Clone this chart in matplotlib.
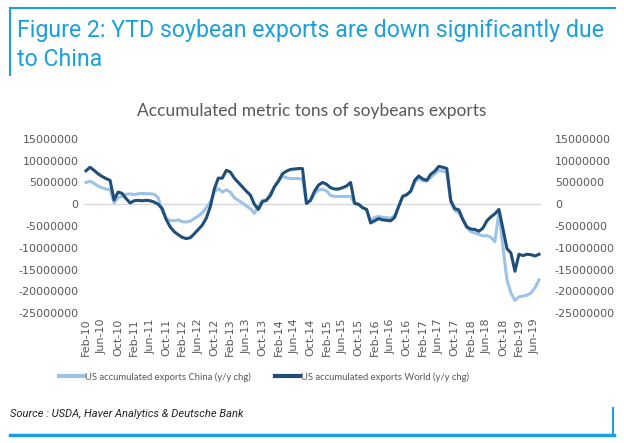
import matplotlib.pyplot as plt
import pandas as pd
from matplotlib.lines import Line2D

# monthly categories, Feb-10 .. Jul-19
months = pd.date_range('2010-02-01', '2019-07-01', freq='MS')
month_labels = [m.strftime('%b-%y') for m in months]

# y/y change in accumulated exports, million metric tons
china = [5.0, 5.3, 4.8, 4.2, 3.8, 3.5, 3.4, 0.3, 1.5, 1.8,
         2.3, 2.4, 2.2, 2.4, 2.5, 2.4, 2.4, 2.3, 1.5, -1.5,
         -3.3, -3.7, -3.8, -3.6, -4.0, -4.1, -3.9, -3.3, -2.7, -2.0,
         -0.8, 0.5, 2.8, 3.6, 2.8, 3.3, 2.8, 1.5, 0.9, 0.3,
         -0.4, -1.0, -2.1, -0.5, 0.9, 0.9, 2.5, 4.0, 5.5, 6.4,
         6.1, 5.9, 5.9, 5.9, 5.8, 0.2, 0.8, 2.4, 3.3, 3.4,
         3.1, 2.0, 1.8, 1.8, 1.8, 1.8, 1.8, 0.2, -0.1, -0.8,
         -1.2, -3.8, -3.0, -2.8, -3.0, -3.1, -3.2, -2.6, -0.5, 1.8,
         2.2, 3.0, 5.0, 6.0, 5.4, 5.3, 6.2, 7.0, 7.8, 7.6,
         7.3, 0.5, -1.5, -2.0, -3.5, -5.4, -6.3, -6.6, -6.9, -7.3,
         -7.2, -7.6, -8.6, -1.8, -9.8, -17.3, -20.4, -22.1, -21.3, -21.1,
         -20.9, -20.4, -19.2, -17.4]
world = [7.7, 8.5, 7.8, 7.0, 6.4, 5.9, 5.5, 1.0, 2.8, 2.5,
         1.3, 0.3, 0.8, 0.9, 0.8, 0.9, 0.8, 0.5, 0.0, -1.0,
         -3.5, -5.2, -6.3, -7.0, -7.6, -7.9, -7.7, -6.8, -5.8, -4.8,
         -3.2, -0.6, 3.5, 6.0, 6.0, 7.8, 7.4, 6.0, 5.0, 4.0,
         3.0, 2.1, 0.0, -1.2, 0.6, 0.9, 2.0, 4.0, 5.3, 7.0,
         7.6, 8.0, 8.1, 8.2, 8.2, 0.2, 0.9, 3.0, 4.4, 5.0,
         4.6, 3.8, 3.5, 3.5, 3.8, 4.2, 5.0, 0.2, 0.0, -0.8,
         -1.2, -4.3, -3.8, -3.3, -3.6, -3.7, -3.8, -3.0, -0.5, 1.8,
         2.2, 3.0, 5.5, 6.5, 5.8, 5.5, 6.9, 7.6, 8.7, 8.5,
         8.2, 0.8, -1.0, -1.3, -3.5, -5.2, -5.7, -5.8, -6.2, -5.5,
         -3.8, -2.9, -2.2, -1.2, -5.6, -10.2, -11.2, -15.4, -11.5, -11.8,
         -11.5, -11.6, -11.9, -11.5]

y_ticks = [15000000, 10000000, 5000000, 0, -5000000, -10000000,
           -15000000, -20000000, -25000000]

light = '#9dc3e6'
dark = '#1f4e79'
db_blue = '#1aa0dc'
grey = '#595959'

fig = plt.figure(figsize=(6.24, 4.43), dpi=100)

# frame lines of the figure box
fig.add_artist(Line2D([10/624, 615/624], [1-8/443, 1-8/443], color=db_blue, lw=1.5))
fig.add_artist(Line2D([10/624, 10/624], [1-8/443, 1-75/443], color=db_blue, lw=1.5))
fig.add_artist(Line2D([10/624, 614/624], [1-435/443, 1-435/443], color=db_blue, lw=2.5))
fig.add_artist(Line2D([613/624, 613/624], [1-408/443, 1-435/443], color=db_blue, lw=1.5))

fig.text(17/624, 1-31/443, 'Figure 2: YTD soybean exports are down significantly due',
         color=db_blue, fontsize=16.7, family='Roboto', va='center')
fig.text(17/624, 1-60/443, 'to China', color=db_blue, fontsize=16.7,
         family='Roboto', va='center')
fig.text(312/624, 1-111/443, 'Accumulated metric tons of soybeans exports',
         color=grey, fontsize=12.5, family='Lato', ha='center', va='center')

ax = fig.add_axes([84/624, 1-313/443, 457/624, 174/443])
x = list(range(len(months)))
ax.plot(x, [v * 1e6 for v in china], color=light, lw=2.2, solid_joinstyle='round')
ax.plot(x, [v * 1e6 for v in world], color=dark, lw=2.2, solid_joinstyle='round')
ax.axhline(0, color='#d9d9d9', lw=1, zorder=0)

ax.set_xlim(-0.5, len(months) - 0.5)
ax.set_ylim(-25000000, 15000000)
ax.set_yticks(y_ticks)
ax.set_yticklabels([str(t) for t in y_ticks])
ax.set_xticks(x[::4])
ax.set_xticklabels(month_labels[::4], rotation=90)
ax.tick_params(length=0, labelsize=8, labelcolor=grey, pad=4)
for s in ax.spines.values():
    s.set_visible(False)

ax2 = ax.twinx()
ax2.set_ylim(-25000000, 15000000)
ax2.set_yticks(y_ticks)
ax2.set_yticklabels([str(t) for t in y_ticks])
ax2.tick_params(length=0, labelsize=8, labelcolor=grey, pad=10)
for s in ax2.spines.values():
    s.set_visible(False)

handles = [Line2D([], [], color=light, lw=3), Line2D([], [], color=dark, lw=3)]
fig.legend(handles, ['US accumulated exports China (y/y chg)',
                     'US accumulated exports World (y/y chg)'],
           loc='center', bbox_to_anchor=(264/624, 1-377/443), ncol=2, frameon=False,
           prop={'family': 'Lato', 'size': 6.8}, labelcolor=grey, handlelength=2.6,
           handletextpad=0.1, columnspacing=2.6)

fig.text(10/624, 1-414/443, 'Source : USDA, Haver Analytics & Deutsche Bank',
         fontsize=8.0, style='italic', color='#222222', va='center',
         family='Roboto')

fig.savefig('out.png', dpi=100)
